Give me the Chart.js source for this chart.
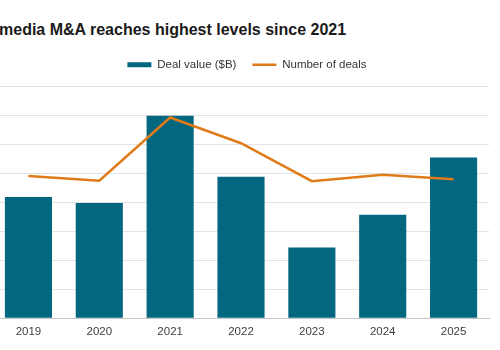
<!DOCTYPE html>
<html>
<head>
<meta charset="utf-8">
<script src="https://cdn.jsdelivr.net/npm/chart.js@4.4.1/dist/chart.umd.min.js"></script>
<style>
  html, body { margin: 0; padding: 0; background: #fff; }
  #wrap { position: relative; width: 500px; height: 350px; overflow: hidden; background: #fff; }
  #title { position: absolute; left: -1px; top: 21px; font: bold 16px "Liberation Sans", Arial, sans-serif; color: #1a1a1a; white-space: nowrap; }
  #c { position: absolute; left: -40px; top: 0; }
</style>
</head>
<body>
<div id="wrap">
  <div id="title">media M&amp;A reaches highest levels since 2021</div>
  <canvas id="c" width="574" height="350"></canvas>
</div>
<script>
const years = ['2019', '2020', '2021', '2022', '2023', '2024', '2025'];
const dealValue = [83.7, 79.5, 139.8, 97.6, 48.9, 71.4, 111];
const dealCount = [491, 475, 693, 604, 473, 495, 480];
const leftTicks = [0, 20, 40, 60, 80, 100, 120, 140, 160];
const rightTicks = [0, 100, 200, 300, 400, 500, 600, 700, 800];

const teal = '#03677f';
const orange = '#e07b1a';

// make the legend block a little taller so the plot starts lower
const legendSpace = {
  id: 'legendSpace',
  beforeLayout(chart) {
    const lg = chart.legend;
    if (lg && !lg._patched) {
      const fit = lg.fit;
      lg.fit = function () { fit.call(this); this.height += 6; };
      lg._patched = true;
    }
  }
};

new Chart(document.getElementById('c'), {
  type: 'bar',
  plugins: [legendSpace],
  data: {
    labels: years,
    datasets: [
      {
        label: 'Deal value ($B)',
        data: dealValue,
        backgroundColor: teal,
        yAxisID: 'y',
        order: 2,
        categoryPercentage: 1,
        barPercentage: 0.665
      },
      {
        type: 'line',
        label: 'Number of deals',
        data: dealCount,
        borderColor: orange,
        backgroundColor: orange,
        borderWidth: 2.5,
        pointRadius: 0,
        tension: 0,
        yAxisID: 'y2',
        order: 1
      }
    ]
  },
  options: {
    responsive: false,
    animation: false,
    devicePixelRatio: 1,
    layout: { padding: { top: 43, bottom: 4, left: 0, right: 0 } },
    plugins: {
      legend: {
        display: true,
        labels: {
          font: { family: 'Liberation Sans', size: 11.5 },
          color: '#333',
          usePointStyle: true,
          pointStyleWidth: 24,
          boxHeight: 5,
          padding: 16,
          sort: (a, b) => a.datasetIndex - b.datasetIndex,
          generateLabels(chart) {
            const items = Chart.defaults.plugins.legend.labels.generateLabels(chart);
            items.forEach(it => {
              if (it.datasetIndex === 0) {
                it.pointStyle = 'rect';
                it.lineWidth = 0;
              } else {
                it.pointStyle = 'line';
                it.lineWidth = 2.5;
                it.strokeStyle = orange;
              }
            });
            return items;
          }
        }
      },
      tooltip: { enabled: false }
    },
    scales: {
      x: {
        grid: { display: false, drawTicks: false },
        border: { display: true, color: '#c4c4c4' },
        ticks: { font: { family: 'Liberation Sans', size: 11.5 }, color: '#404040', padding: 7 }
      },
      y: {
        position: 'left',
        min: 0, max: 160,
        afterBuildTicks(axis) { axis.ticks = leftTicks.map(v => ({ value: v })); },
        afterFit(axis) { axis.width = 33; },
        grid: { color: '#e3e3e3' },
        border: { display: false },
        ticks: { font: { family: 'Liberation Sans', size: 11.5 }, color: '#404040' }
      },
      y2: {
        position: 'right',
        min: 0, max: 800,
        afterBuildTicks(axis) { axis.ticks = rightTicks.map(v => ({ value: v })); },
        afterFit(axis) { axis.width = 45; },
        grid: { display: false },
        border: { display: false },
        ticks: { font: { family: 'Liberation Sans', size: 11.5 }, color: '#404040', padding: 8 }
      }
    }
  }
});
</script>
</body>
</html>
